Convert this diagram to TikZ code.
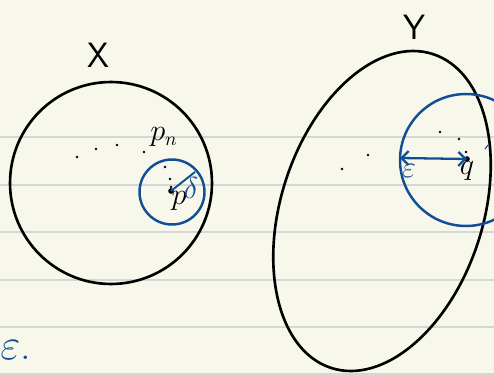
\documentclass[tikz,border=0pt]{standalone}
\usepackage{tikz}
\usetikzlibrary{arrows.meta,positioning}
\usepackage{amsmath,amssymb}
\usepackage{xcolor}
\definecolor{paper}{RGB}{248,247,235}
\definecolor{ruleline}{RGB}{214,214,212}
\definecolor{inkblue}{RGB}{16,78,150}
\tikzset{
  set/.style    = {draw=black,line width=1.5pt},
  ball/.style   = {draw=inkblue,line width=1.4pt},
  rule/.style   = {draw=ruleline,line width=1.1pt},
  seq/.style    = {fill=black},
  setname/.style= {font=\fontsize{20}{24}\selectfont\sffamily,inner sep=0pt},
  lbl/.style    = {font=\fontsize{16}{18}\selectfont,inner sep=0pt},
  bluelbl/.style= {lbl,text=inkblue},
  epsarrow/.style = {{Straight Barb[length=4pt,width=8pt]}-{Straight Barb[length=4pt,width=8pt]},
                     draw=inkblue,line width=1.3pt},
}

\begin{document}
\begin{tikzpicture}[x=0.02cm,y=-0.02cm]
  % paper with rules
  \fill[paper] (0,0) rectangle (494,375);
  \useasboundingbox (0,0) rectangle (494,375);
  \foreach \ry in {137,185,232,280,327,374}
    \draw[rule] (0,\ry) -- (494,\ry);

  % the set X
  \coordinate (xc) at (111,183);
  \draw[set] (xc) circle[radius=2.02cm];
  \node[setname] (xname) at (98,55) {X};
  \foreach \pt in {(77,157),(96,149),(117,145),(144,152),(165,167),(170,179),(171,187)}
    \fill[seq] \pt circle[radius=0.8pt];
  \node[lbl] (pn) at (164,137) {$p_n$};

  % delta ball round p
  \coordinate (p) at (171,191);
  \coordinate (bpc) at (172,192);
  \draw[ball] (bpc) circle[radius=0.65cm];
  \fill[seq] (p) circle[radius=1.6pt];
  \node[lbl] (plbl) at (179,201) {$p$};
  \coordinate (rim) at (195,172);
  \draw[inkblue,line width=1.1pt] (p) -- (rim);
  \node[bluelbl] (delta) at (191,188) {$\delta$};

  % the set Y
  \coordinate (yc) at (382,211);
  \draw[set] (yc) circle[x radius=3.3cm,y radius=2.02cm,rotate=72];
  \node[setname] (yname) at (414,27) {Y};
  \foreach \pt in {(342,169),(368,155),(440,132),(459,139),(466,152)}
    \fill[seq] \pt circle[radius=0.8pt];

  % epsilon ball round q
  \coordinate (q) at (467,159);
  \coordinate (bqc) at (466,160);
  \draw[ball] (bqc) circle[radius=1.32cm];
  \fill[seq] (q) circle[radius=1.6pt];
  \node[lbl] (qlbl) at (467,171) {$q$};
  \coordinate (left) at (400,158);
  \draw[epsarrow] (left) -- (q);
  \node[bluelbl,font=\fontsize{18}{20}\selectfont] (eps) at (409,171) {$\varepsilon$};
  \coordinate (tick) at (485,149);
  \draw[inkblue,line width=0.6pt] (tick) -- ++(3,-4);

  % stray epsilon at the margin
  \node[bluelbl,anchor=west,font=\fontsize{24}{26}\selectfont] (epsb) at (0,350) {$\varepsilon$.};
\end{tikzpicture}
\end{document}
